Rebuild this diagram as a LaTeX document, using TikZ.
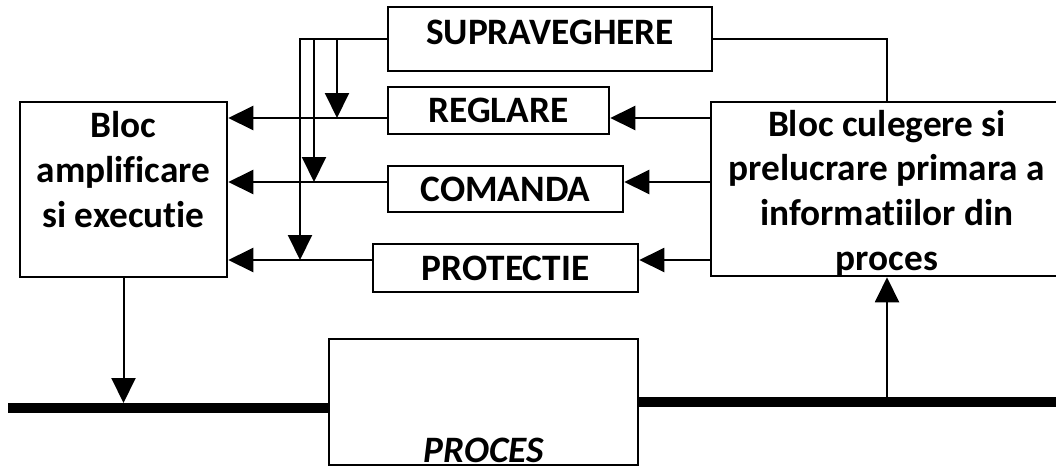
\documentclass[tikz,border=0pt]{standalone}
\usepackage{fontspec}
\setmainfont{Carlito}[Ligatures=NoCommon]
\usetikzlibrary{arrows.meta}

\begin{document}
\begin{tikzpicture}[x=1pt, y=-1pt,
    box/.style={draw, line width=2.5pt, inner sep=0pt},
    lbl/.style={font=\fontsize{37.3}{44.6}\selectfont\bfseries, align=center, inner sep=0pt},
    arr/.style={line width=2pt, -{Triangle[length=25pt,width=24pt]}},
    bus/.style={line width=10pt}]
    \useasboundingbox (0,0) rectangle (1056,466);

    \node[box, lbl, minimum width=324pt, minimum height=64pt, text depth=14pt] (sup) at (550,39) {SUPRAVEGHERE};
    \node[box, lbl, minimum width=221pt, minimum height=47pt] (reg) at (498.5,110.5) {REGLARE};
    \node[box, lbl, minimum width=235pt, minimum height=46pt] (com) at (505.5,189) {COMANDA};
    \node[box, lbl, minimum width=265pt, minimum height=48pt] (pro) at (505.5,268) {PROTECTIE};

    \node[box, minimum width=207pt, minimum height=175pt] (amp) at (123.5,189.5) {};
    \node[lbl, anchor=base] (amptxt) at (123.5,227) {Bloc\\amplificare\\si executie};
    \node[box, minimum width=352pt, minimum height=174pt] (cul) at (887,189) {};
    \node[lbl, anchor=base] (cultxt) at (887,270) {Bloc culegere si\\prelucrare primara a\\informatiilor din\\proces};

    \node[box, minimum width=309pt, minimum height=126pt] (proc) at (483.5,402) {};
    \node[lbl] (proctxt) at (483.5,450) {\itshape PROCES};

    \coordinate (lreg) at (0,118);
    \coordinate (lcom) at (0,182);
    \coordinate (lpro) at (0,260);
    \coordinate (jreg) at (337,118);
    \coordinate (jcom) at (314,182);
    \coordinate (jpro) at (300,260);
    \coordinate (busL) at (8,408);
    \coordinate (busR) at (1056,402);

    \draw[arr] (cul.west |- lreg) -- (reg.east |- lreg);
    \draw[arr] (reg.west |- lreg) -- (amp.east |- lreg);
    \draw[arr] (cul.west |- lcom) -- (com.east |- lcom);
    \draw[arr] (com.west |- lcom) -- (amp.east |- lcom);
    \draw[arr] (cul.west |- lpro) -- (pro.east |- lpro);
    \draw[arr] (pro.west |- lpro) -- (amp.east |- lpro);

    \draw[arr] (sup.west) -| (jreg);
    \draw[arr] (sup.west) -| (jcom);
    \draw[arr] (sup.west) -| (jpro);
    \draw[line width=2pt] (sup.east) -| (cul.north);

    \draw[bus] (busL) -- (proc.west |- busL);
    \draw[bus] (proc.east |- busR) -- (busR);
    \draw[arr] (amp.south) -- ([yshift=5pt]amp.south |- busL);
    \draw[arr] (cul.south |- busR) -- (cul.south);
\end{tikzpicture}
\end{document}
